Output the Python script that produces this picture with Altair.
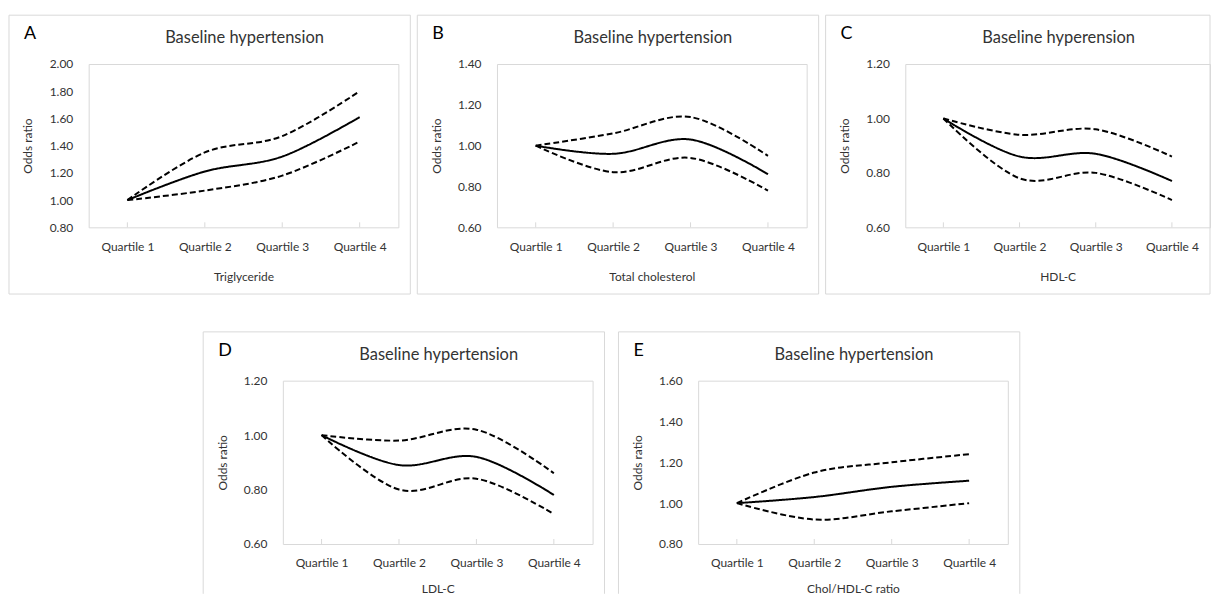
import altair as alt
import pandas as pd

FONT = "Lato"
W, H = 311, 164

quartiles = ["Quartile 1", "Quartile 2", "Quartile 3", "Quartile 4"]
series_names = ["Odds ratio", "Upper", "Lower"]

A_or = [1.00, 1.21, 1.32, 1.61]
A_up = [1.00, 1.35, 1.47, 1.80]
A_lo = [1.00, 1.07, 1.18, 1.43]

B_or = [1.00, 0.96, 1.03, 0.86]
B_up = [1.00, 1.06, 1.14, 0.95]
B_lo = [1.00, 0.87, 0.94, 0.78]

C_or = [1.00, 0.86, 0.87, 0.77]
C_up = [1.00, 0.94, 0.96, 0.86]
C_lo = [1.00, 0.78, 0.80, 0.70]

D_or = [1.00, 0.89, 0.92, 0.78]
D_up = [1.00, 0.98, 1.02, 0.86]
D_lo = [1.00, 0.80, 0.84, 0.71]

E_or = [1.00, 1.03, 1.08, 1.11]
E_up = [1.00, 1.15, 1.20, 1.24]
E_lo = [1.00, 0.92, 0.96, 1.00]

BORDER = "#d9d9d9"
TEXT = "#333333"


def panel(letter, title, xtitle, orv, up, lo, ymin, ymax, w=W, right=12, bottom_row=False):
    rows = []
    for s, vals in zip(series_names, (orv, up, lo)):
        for q, v in zip(quartiles, vals):
            rows.append({"q": q, "v": v, "s": s})
    df = pd.DataFrame(rows)
    n = int(round((ymax - ymin) / 0.2))
    ticks = [round(ymin + 0.2 * i, 2) for i in range(n + 1)]
    xt_y = 45 if bottom_row else 49

    x = alt.X(
        "q:O",
        sort=quartiles,
        scale=alt.Scale(type="point", padding=0.5),
        axis=alt.Axis(
            title=xtitle, labelAngle=0, domain=False, ticks=False, grid=False,
            labelPadding=14, titleX=w / 2, titleY=xt_y, titleAlign="center",
            titleBaseline="middle",
        ),
    )
    y = alt.Y(
        "v:Q",
        scale=alt.Scale(domain=[ymin, ymax], nice=False, zero=False),
        axis=alt.Axis(
            values=ticks, format=".2f", title="Odds ratio", domain=False,
            ticks=False, grid=False, labelPadding=16, titleX=-61, titleY=H / 2,
            titleAngle=270, titleAlign="center", titleBaseline="middle",
        ),
    )

    one = pd.DataFrame({"a": [0]})
    layers = []
    if bottom_row:
        for xv in (-80, w + right):
            layers.append(
                alt.Chart(one).mark_rule(color=BORDER, strokeWidth=1).encode(
                    x=alt.value(xv), y=alt.value(-49), y2=alt.value(H + 50)
                )
            )
        layers.append(
            alt.Chart(one).mark_rule(color=BORDER, strokeWidth=1).encode(
                x=alt.value(-80), x2=alt.value(w + right), y=alt.value(-49)
            )
        )
    else:
        layers.append(
            alt.Chart(one).mark_rect(fillOpacity=0, stroke=BORDER, strokeWidth=1).encode(
                x=alt.value(-80), x2=alt.value(w + right), y=alt.value(-49), y2=alt.value(H + 67)
            )
        )
    tick_marks = alt.Chart(pd.DataFrame({"q": quartiles})).mark_rule(
        color=BORDER, strokeWidth=1
    ).encode(x=x, y=alt.value(H - 5), y2=alt.value(H))
    lines = alt.Chart(df).mark_line(interpolate="cardinal", color="black", strokeWidth=2).encode(
        x=x,
        y=y,
        detail="s:N",
        strokeDash=alt.StrokeDash(
            "s:N",
            scale=alt.Scale(domain=series_names, range=[[1, 0], [6, 3], [6, 3]]),
            legend=None,
        ),
    )
    ttl = alt.Chart(one).mark_text(
        text=title, font=FONT, fontSize=16.5, color=TEXT, align="center", baseline="middle"
    ).encode(x=alt.value(w / 2 + 1), y=alt.value(-26))
    let = alt.Chart(one).mark_text(
        text=letter, font=FONT, fontSize=18, color="black", align="left", baseline="middle"
    ).encode(x=alt.value(-65), y=alt.value(-30))

    layers += [tick_marks, lines, ttl, let]
    return alt.layer(*layers).properties(width=w, height=H)


pA = panel("A", "Baseline hypertension", "Triglyceride", A_or, A_up, A_lo, 0.8, 2.0)
pB = panel("B", "Baseline hypertension", "Total cholesterol", B_or, B_up, B_lo, 0.6, 1.4)
pC = panel("C", "Baseline hyperension", "HDL-C", C_or, C_up, C_lo, 0.6, 1.2, w=306, right=0)
pD = panel("D", "Baseline hypertension", "LDL-C", D_or, D_up, D_lo, 0.6, 1.2, bottom_row=True)
pE = panel("E", "Baseline hypertension", "Chol/HDL-C ratio", E_or, E_up, E_lo, 0.8, 1.6, bottom_row=True)

spacer = alt.Chart(pd.DataFrame({"a": [0]})).mark_point(opacity=0).encode(
    x=alt.value(0), y=alt.value(0)
).properties(width=101, height=H, view=alt.ViewBackground(stroke="transparent"))

top = alt.hconcat(pA, pB, pC, spacing=5)
bottom = alt.hconcat(spacer, pD, pE, spacing=12)

chart = alt.vconcat(top, bottom, spacing=36).properties(
    padding={"left": 0, "top": 5, "right": 0, "bottom": 0}
).configure_view(stroke=BORDER).configure_axis(
    labelFont=FONT, titleFont=FONT, labelColor=TEXT, titleColor=TEXT,
    labelFontSize=12, titleFontSize=12, titleFontWeight="normal",
)

chart.save("out.html", embed_options={"renderer": "svg", "actions": False})
